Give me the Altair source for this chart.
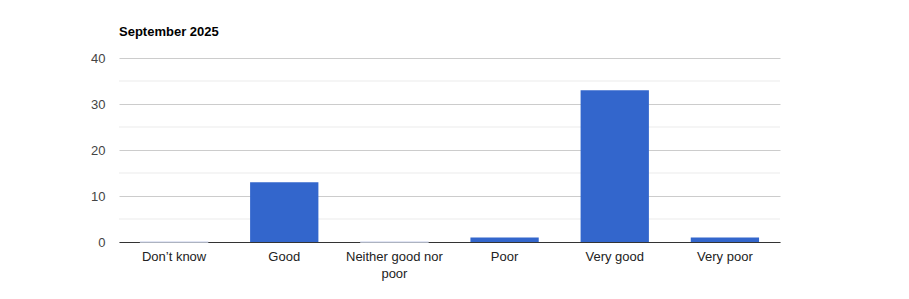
import altair as alt
import pandas as pd

categories = ["Don’t know", "Good", "Neither good nor poor", "Poor", "Very good", "Very poor"]
values = [0, 13, 0, 1, 33, 1]
major_ticks = [0, 10, 20, 30, 40]
minor_ticks = [5, 15, 25, 35]
title_text = "September 2025"

df = pd.DataFrame({"category": categories, "value": values})
minor_df = pd.DataFrame({"value": minor_ticks})

FONT = "Arial, Liberation Sans, sans-serif"

y_scale = alt.Scale(domain=[0, 40], nice=False)
y_axis = alt.Axis(
    title=None,
    values=major_ticks,
    labelFontSize=13,
    labelFont=FONT,
    labelColor="#444444",
    labelPadding=14,
    ticks=False,
    domain=False,
    gridColor="#cccccc",
    gridWidth=1,
)

minor = alt.Chart(minor_df).mark_rule(color="#ebebeb", strokeWidth=1).encode(
    y=alt.Y("value:Q", scale=y_scale, axis=y_axis)
)

bars = alt.Chart(df).mark_bar(color="#3366cc").encode(
    x=alt.X(
        "category:N",
        sort=categories,
        scale=alt.Scale(paddingInner=0.38, paddingOuter=0.19),
        axis=alt.Axis(
            title=None,
            labelAngle=0,
            labelFontSize=13,
            labelFont=FONT,
            labelColor="#222222",
            labelPadding=8,
            labelLineHeight=17,
            ticks=False,
            domainColor="#333333",
            domainWidth=1,
            labelExpr="datum.label == 'Neither good nor poor' ? ['Neither good nor', 'poor'] : datum.label",
        ),
    ),
    y=alt.Y("value:Q", scale=y_scale, axis=y_axis),
    stroke=alt.condition("datum.value == 0", alt.value("#d6ddf0"), alt.value(None)),
    strokeWidth=alt.value(1),
)

chart = alt.layer(minor, bars).properties(
    width=661,
    height=184,
    title=alt.TitleParams(
        title_text,
        anchor="start",
        frame="group",
        fontSize=13,
        fontWeight="bold",
        font=FONT,
        color="#000000",
        baseline="alphabetic",
        offset=3,
    ),
    autosize=alt.AutoSizeParams(type="none"),
    padding={"left": 119, "top": 58, "right": 129, "bottom": 57},
    background="white",
).configure_view(stroke=None)

chart.save("out.html", embed_options={"renderer": "svg", "actions": False})
